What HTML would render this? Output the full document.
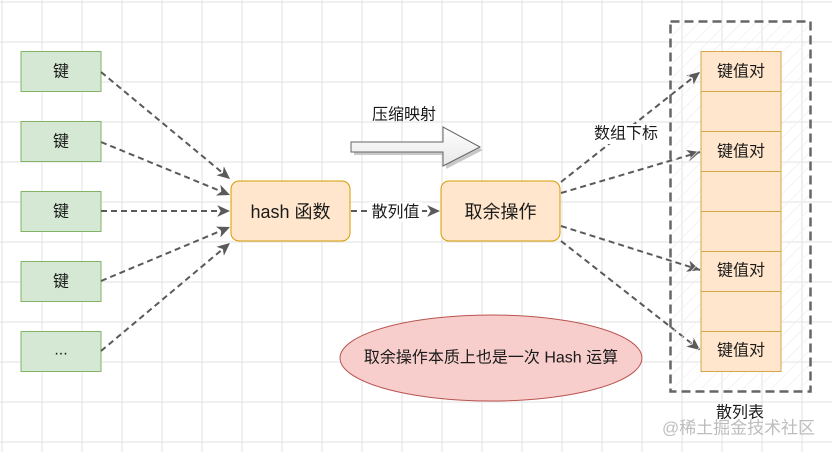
<!DOCTYPE html>
<html><head><meta charset="utf-8"><style>
html,body{margin:0;padding:0;background:#fff;}
svg{display:block;}
text{font-family:"Liberation Sans","Noto Sans CJK SC",sans-serif;fill:#1a1a1a;}
</style></head><body>
<svg width="832" height="452" viewBox="0 0 832 452" xmlns="http://www.w3.org/2000/svg">
<defs>
<pattern id="grid" x="1.5" y="1.5" width="40" height="40" patternUnits="userSpaceOnUse">
<path d="M0.5 0V40M0 0.5H40" stroke="#e2e2e2" stroke-width="1" fill="none"/>
</pattern>
<pattern id="hatch" width="10" height="10" patternUnits="userSpaceOnUse" patternTransform="rotate(45)">
<line x1="0" y1="0" x2="0" y2="10" stroke="#efefef" stroke-width="1.5"/>
</pattern>
<linearGradient id="ag" x1="0" y1="0" x2="0" y2="1">
<stop offset="0" stop-color="#ffffff"/><stop offset="1" stop-color="#e8e8e8"/>
</linearGradient>
<marker id="ah" markerUnits="userSpaceOnUse" markerWidth="14" markerHeight="14" refX="11" refY="5" orient="auto" viewBox="0 0 12 10">
<path d="M0,0 L11,5 L0,10 L3,5 Z" fill="#5a5a5a"/>
</marker>
</defs>
<rect width="832" height="452" fill="#fff"/>
<rect width="832" height="452" fill="url(#grid)"/>

<!-- key boxes -->
<g fill="#d5e8d4" stroke="#82b366" stroke-width="1">
<rect x="21" y="51.5" width="80" height="40"/>
<rect x="21" y="121.5" width="80" height="40"/>
<rect x="21" y="191.5" width="80" height="40"/>
<rect x="21" y="261.5" width="80" height="40"/>
<rect x="21" y="331.5" width="80" height="40"/>
</g>
<g font-size="16" text-anchor="middle" dominant-baseline="central">
<text x="61" y="72">键</text>
<text x="61" y="142">键</text>
<text x="61" y="212">键</text>
<text x="61" y="282">键</text>
<text x="61" y="350">...</text>
</g>

<!-- connectors -->
<g stroke="#5a5a5a" stroke-width="2" stroke-dasharray="6 4" fill="none" marker-end="url(#ah)">
<line x1="101" y1="72" x2="230" y2="179"/>
<line x1="101" y1="142" x2="230" y2="195"/>
<line x1="101" y1="211" x2="230" y2="211"/>
<line x1="101" y1="281" x2="230" y2="227"/>
<line x1="101" y1="351" x2="230" y2="243"/>
<line x1="351" y1="211" x2="440" y2="211"/>
<line x1="561" y1="182" x2="700" y2="72"/>
<line x1="561" y1="193" x2="700" y2="152"/>
<line x1="561" y1="226" x2="700" y2="270"/>
<line x1="561" y1="241" x2="700" y2="350"/>
</g>

<!-- hash & mod boxes -->
<rect x="231" y="181" width="119" height="60" rx="8" fill="#ffe6cc" stroke="#d79b00" stroke-width="1"/>
<rect x="441" y="181" width="119" height="60" rx="8" fill="#ffe6cc" stroke="#d79b00" stroke-width="1"/>
<text x="290.5" y="212" font-size="18" text-anchor="middle" dominant-baseline="central">hash 函数</text>
<text x="500.5" y="212" font-size="18" text-anchor="middle" dominant-baseline="central">取余操作</text>

<!-- 散列值 label -->
<rect x="369" y="202" width="53" height="20" fill="#fff"/>
<text x="395.5" y="212.5" font-size="16" text-anchor="middle" dominant-baseline="central">散列值</text>

<!-- big arrow -->
<path d="M354,145 L446,145 L446,130 L483,150 L446,169 L446,155 L354,155 Z" fill="#c8c8c8"/>
<path d="M351,142 L443,142 L443,127 L480,147 L443,166 L443,152 L351,152 Z" fill="url(#ag)" stroke="#666" stroke-width="1"/>
<text x="404" y="115" font-size="16" text-anchor="middle" dominant-baseline="central">压缩映射</text>

<!-- 数组下标 label -->
<rect x="593" y="124" width="66" height="20" fill="#fff"/>
<text x="626" y="134" font-size="16" text-anchor="middle" dominant-baseline="central">数组下标</text>

<!-- hash table container -->
<rect x="670.5" y="21.5" width="140" height="370" fill="url(#hatch)"/>
<rect x="670.5" y="21.5" width="140" height="370" fill="none" stroke="#666" stroke-width="2.5" stroke-dasharray="9 5"/>
<g fill="#ffe6cc" stroke="#d6a545" stroke-width="1">
<rect x="701" y="51.5" width="80" height="40"/>
<rect x="701" y="91.5" width="80" height="40"/>
<rect x="701" y="131.5" width="80" height="40"/>
<rect x="701" y="171.5" width="80" height="40"/>
<rect x="701" y="211.5" width="80" height="40"/>
<rect x="701" y="251.5" width="80" height="40"/>
<rect x="701" y="291.5" width="80" height="40"/>
<rect x="701" y="331.5" width="80" height="40"/>
</g>
<g font-size="16" text-anchor="middle" dominant-baseline="central">
<text x="741" y="72">键值对</text>
<text x="741" y="152">键值对</text>
<text x="741" y="271">键值对</text>
<text x="741" y="351">键值对</text>
</g>
<text x="740" y="413" font-size="16" text-anchor="middle" dominant-baseline="central">散列表</text>

<!-- ellipse -->
<ellipse cx="491" cy="358" rx="151" ry="43" fill="#f8cecc" stroke="#b85450" stroke-width="1"/>
<text x="491" y="358" font-size="16" text-anchor="middle" dominant-baseline="central">取余操作本质上也是一次 Hash 运算</text>

<!-- watermark -->
<text x="662" y="428" font-size="17" dominant-baseline="central" style="fill:#bdbdbd" textLength="153">@稀土掘金技术社区</text>
</svg>
</body></html>
